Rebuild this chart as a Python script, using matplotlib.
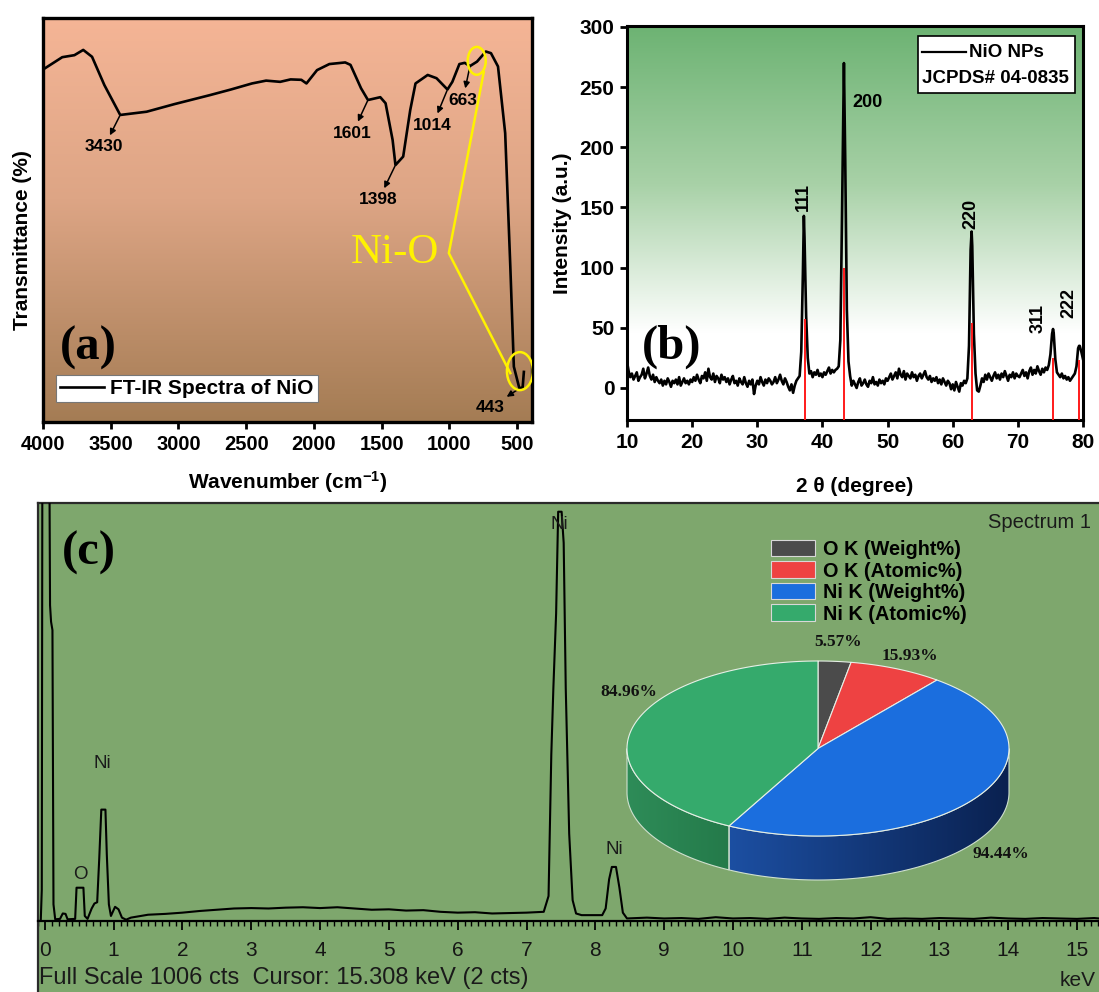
"""NiO nanoparticle characterisation: FT-IR (a), XRD (b) and EDS with a 3-D composition pie (c)."""

import numpy as np
import matplotlib

matplotlib.use("Agg")

import matplotlib.pyplot as plt
from matplotlib.colors import LinearSegmentedColormap
from matplotlib.lines import Line2D
from matplotlib.patches import Ellipse, Patch, Polygon, Rectangle
from matplotlib.ticker import MultipleLocator

W, H = 1099, 992
SANS = "Liberation Sans"
SERIF = "Liberation Serif"

plt.rcParams["font.family"] = [SANS, "DejaVu Sans"]
plt.rcParams["font.weight"] = "bold"
plt.rcParams["axes.labelweight"] = "bold"
plt.rcParams["mathtext.fontset"] = "custom"
plt.rcParams["mathtext.rm"] = f"{SANS}:bold"
plt.rcParams["mathtext.default"] = "rm"

# ---------------------------------------------------------------- FT-IR data
IR_WAVENUMBER = [
    3988, 3858, 3768, 3703, 3638, 3547, 3430, 3235, 3028, 2769, 2613, 2457,
    2353, 2249, 2172, 2093, 2055, 1977, 1886, 1769, 1730, 1652, 1601, 1510,
    1471, 1419, 1398, 1341, 1289, 1250, 1160, 1095, 1014, 978, 926, 887, 848,
    796, 731, 693, 641, 588, 550, 524, 483, 459, 450,
]
IR_TRANSMITTANCE = [
    87.5, 90.3, 90.8, 92.1, 90.4, 83.4, 76.0, 76.8, 78.7, 80.9, 82.3, 83.8,
    84.5, 84.2, 84.8, 84.7, 83.8, 87.1, 88.6, 89.0, 88.4, 82.6, 79.7, 80.4,
    78.9, 69.8, 63.6, 65.7, 77.2, 83.8, 85.9, 85.1, 82.3, 84.2, 88.6, 88.9,
    88.1, 89.2, 91.7, 91.3, 88.0, 71.5, 38.4, 13.7, 8.3, 8.6, 12.4,
]
IR_BAND_LABELS = ["3430", "1601", "1398", "1014", "663", "443"]
IR_BAND_AT = [3430, 1601, 1398, 1014, 848, 483]
IR_LABEL_XY = [(3549, 68.1), (1715, 71.5), (1522, 55.0), (1123, 73.5),
               (901, 79.7), (701, 3.5)]

# ------------------------------------------------------------------ XRD data
XRD_START, XRD_STEP = 10.0, 0.25
XRD_BG = [
    22, 14, 9, 12, 7, 10, 13, 6, 9, 11, 16, 8, 12, 17, 10, 7, 11, 5, 9, 6,
    4, 7, 2, 6, 3, 8, 5, 1, 6, 4, 7, 3, 9, 2, 5, 8, 4, 6, 3, 7,
    5, 9, 6, 11, 7, 4, 10, 8, 13, 6, 16, 9, 7, 12, 5, 10, 8, 4, 11, 7,
    9, 5, 8, 3, 7, 10, 4, 6, 2, 8, 5, 3, 9, 4, 1, 6, 3, 7, -5, 2,
    6, 3, 9, 5, 2, 7, 4, 8, 6, 3, 5, 9, 4, 7, 11, 6, 3, 8, 5, 1,
    -2, 3, -4, 2, 6, 8, 10, 30, 95, 125, 60, 25, 12, 14, 9, 13, 11, 15, 10, 12,
    9, 13, 11, 14, 17, 12, 15, 13, 15, 16, 18, 40, 140, 250, 190, 65, 22, 10, 2, 6,
    3, 0, 5, 8, 2, 4, 7, 3, 1, 6, 4, 9, 3, 5, 2, 7, 4, 6, 3, 8,
    6, 9, 12, 7, 10, 13, 8, 16, 11, 9, 14, 7, 12, 10, 8, 13, 9, 11, 6, 10,
    12, 8, 11, 14, 9, 7, 10, 5, 8, 6, 9, 4, 7, 3, 8, 5, 2, 6, 4, -1,
    3, -2, 5, 1, -3, 4, 2, 6, 4, 8, 35, 115, 118, 45, 12, -2, -3, 2, 8, 5,
    11, 7, 12, 9, 6, 10, 13, 8, 11, 7, 12, 9, 14, 10, 6, 11, 9, 13, 8, 12,
    10, 9, 12, 15, 10, 13, 8, 14, 17, 11, 15, 12, 18, 14, 11, 16, 13, 17, 15, 19,
    28, 45, 46, 24, 13, 11, 9, 12, 8, 10, 7, 9, 6, 8, 10, 12, 18, 33, 35, 30,
    24,
]
XRD_PEAK_TT = [37.15, 43.3, 62.9, 75.4, 79.4]
XRD_PEAK_I = [143, 270, 130, 49, 35]
XRD_HKL = ["111", "200", "220", "311", "222"]
JCPDS_TT = [37.25, 43.3, 62.9, 75.4, 79.4]
JCPDS_I = [57, 100, 54, 25, 23]

# ------------------------------------------------------------------ EDS data
EDS_KEV = [
    -0.10, -0.06, -0.045, -0.035, 0.06, 0.075, 0.09, 0.11, 0.125, 0.15,
    0.22, 0.26, 0.30, 0.33, 0.44, 0.46, 0.56, 0.58, 0.62,
    0.68, 0.72, 0.76, 0.79, 0.82, 0.88, 0.90, 0.93, 0.96, 1.02, 1.07, 1.12, 1.18,
    1.25, 1.50, 1.75, 2.00, 2.25, 2.50, 2.75, 3.00, 3.25, 3.50, 3.75, 4.00, 4.25,
    4.50, 4.75, 5.00, 5.25, 5.50, 5.75, 6.00, 6.25, 6.50, 6.75, 7.00, 7.25,
    7.32, 7.36, 7.39, 7.43, 7.46, 7.51, 7.54, 7.57, 7.62, 7.67, 7.72, 7.80,
    7.95, 8.10, 8.15, 8.20, 8.24, 8.30, 8.35, 8.40, 8.46,
    8.75, 9.00, 9.25, 9.50, 9.75, 10.00, 10.25, 10.50, 10.75, 11.00, 11.25,
    11.50, 11.75, 12.00, 12.25, 12.50, 12.75, 13.00, 13.25, 13.50, 13.75,
    14.00, 14.25, 14.50, 14.75, 15.00, 15.25, 15.32,
]
EDS_COUNTS = [
    0, 0, 75, 1300, 1300, 760, 720, 700, 40, 4,
    5, 18, 17, 4, 5, 80, 80, 12, 5,
    30, 42, 45, 150, 268, 268, 160, 40, 12, 34, 28, 8, 3,
    8, 15, 17, 20, 24, 27, 30, 31, 30, 32, 33, 31, 33,
    30, 27, 28, 25, 26, 22, 20, 21, 18, 19, 20, 22,
    60, 400, 560, 740, 985, 985, 910, 560, 210, 50, 18, 14,
    14, 14, 30, 100, 130, 130, 80, 20, 6,
    8, 6, 7, 5, 9, 6, 7, 5, 8, 6, 5,
    7, 6, 9, 5, 6, 5, 7, 6, 5, 8,
    6, 5, 7, 6, 5, 7, 6,
]
EDS_LINES = ["O", "Ni", "Ni", "Ni"]
EDS_LINE_KEV = [0.52, 0.83, 7.48, 8.27]
EDS_LINE_Y = [111, 380, 955, 171]

PIE_LABELS = ["O K (Weight%)", "O K (Atomic%)", "Ni K (Weight%)", "Ni K (Atomic%)"]
PIE_VALUES = [5.57, 15.93, 94.44, 84.96]
PIE_TOP = ["#4B4B4B", "#EE4242", "#1B6EDE", "#35AA6C"]
PIE_SIDE = [("#333333", "#222222"), ("#B02A2A", "#8A1E1E"),
            ("#1C4FA2", "#0A2150"), ("#2E8C58", "#247A4A")]
PIE_LABEL_XY = [(20, 106), (92, 93), (183, -105), (-189, 56)]


def fx(x):
    return x / W


def fy(y):
    return 1 - y / H


def gradient_bg(ax, extent, stops):
    cmap = LinearSegmentedColormap.from_list("bg", stops)
    ax.imshow(np.linspace(0, 1, 256).reshape(-1, 1), extent=extent, origin="upper",
              aspect="auto", cmap=cmap, zorder=0)


fig = plt.figure(figsize=(W / 100, H / 100), dpi=100, facecolor="white")

# =============================================================== (a) FT-IR
ax_a = fig.add_axes([fx(43), fy(422), (532 - 43) / W, (422 - 18) / H])
gradient_bg(ax_a, (4000, 390, 0, 100),
            [(0, "#F5B596"), (0.45, "#DDA585"), (1, "#A47C54")])
ir_line, = ax_a.plot(IR_WAVENUMBER, IR_TRANSMITTANCE, color="black", lw=1.9, zorder=3)
ax_a.set_xlim(4000, 390)
ax_a.set_ylim(0, 100)
ax_a.set_xticks(np.arange(4000, 499, -500))
ax_a.set_yticks([])
ax_a.tick_params(axis="x", direction="out", length=5, width=2, labelsize=14.5, pad=4)
for s in ax_a.spines.values():
    s.set_linewidth(2.4)
ax_a.set_xlabel("Wavenumber (cm$^{-1}$)", fontsize=15, fontweight="bold")
ax_a.xaxis.set_label_coords(0.5, -0.148)
ax_a.xaxis.label.set_va("center")
ax_a.set_ylabel("Transmittance (%)", fontsize=15, fontweight="bold")
ax_a.yaxis.set_label_coords(-0.041, 0.45)
ax_a.yaxis.label.set_va("center")

for lab, wn, xy in zip(IR_BAND_LABELS, IR_BAND_AT, IR_LABEL_XY):
    t = np.interp(wn, IR_WAVENUMBER[::-1], IR_TRANSMITTANCE[::-1])
    ax_a.annotate(lab, xy=(wn, t), xytext=xy, ha="center", va="center", fontsize=12.5,
                  arrowprops=dict(arrowstyle="<|-", color="black", lw=1.1,
                                  mutation_scale=9, shrinkA=1, shrinkB=1),
                  zorder=4)

ax_a.legend([ir_line], ["FT-IR Spectra of NiO"], loc="lower left",
            bbox_to_anchor=((56 - 43) / 489, (422 - 402) / 404), borderaxespad=0,
            fancybox=False, framealpha=1, edgecolor="#777777", fontsize=15,
            handlelength=2.1, handletextpad=0.3, borderpad=0.2).get_frame().set_linewidth(0.8)

# Ni-O stretching callout
yellow = "#FFF200"
ax_a.add_patch(Ellipse((798, 89.4), 133, 6.9, fill=False, ec=yellow, lw=1.8, zorder=5))
ax_a.add_patch(Ellipse((479, 12.6), 192, 9.4, fill=False, ec=yellow, lw=1.8, zorder=5))
ax_a.plot([746, 1004, 550], [86.6, 41.8, 12.1], color=yellow, lw=1.8, zorder=5)
ax_a.text(1400, 41.8, "Ni-O", color=yellow, fontsize=31, fontfamily=SERIF,
          fontweight="normal", ha="center", va="center", zorder=5)

# ================================================================= (b) XRD
ax_b = fig.add_axes([fx(627), fy(420), (1083 - 627) / W, (420 - 26) / H])
y_lo, y_hi = -26.6, 300.8
gradient_bg(ax_b, (10, 80, y_lo, y_hi),
            [(0, "#6DB373"), (0.4, "#A8D1A7"), (0.78, "#FFFFFF"), (1, "#FFFFFF")])
bg_tt = XRD_START + XRD_STEP * np.arange(len(XRD_BG))
tt = np.concatenate([bg_tt, XRD_PEAK_TT])
inten = np.concatenate([XRD_BG, XRD_PEAK_I])
order = np.argsort(tt)
ax_b.plot(tt[order], inten[order], color="black", lw=1.9, zorder=3)
ax_b.vlines(JCPDS_TT, y_lo, JCPDS_I, color="#FF1A1A", lw=1.4, zorder=4)
ax_b.set_xlim(10, 80)
ax_b.set_ylim(y_lo, y_hi)
ax_b.set_xticks(np.arange(10, 81, 10))
ax_b.set_yticks(np.arange(0, 301, 50))
ax_b.tick_params(direction="out", length=5, width=2, labelsize=15, pad=4)
for s in ax_b.spines.values():
    s.set_linewidth(2.2)
ax_b.set_xlabel("2 θ (degree)", fontsize=15, fontweight="bold")
ax_b.xaxis.set_label_coords(0.5, -0.17)
ax_b.xaxis.label.set_va("center")
ax_b.set_ylabel("Intensity (a.u.)", fontsize=15, fontweight="bold")
ax_b.yaxis.set_label_coords(-0.1425, 0.5)
ax_b.yaxis.label.set_va("center")

hkl_offset = [(-0.15, 16, 90), (3.6, -33, 0), (-0.1, 15, 90), (-2.35, 9, 90), (-1.5, 36, 90)]
for lab, x0, y0, (dx, dy, rot) in zip(XRD_HKL, XRD_PEAK_TT, XRD_PEAK_I, hkl_offset):
    ax_b.text(x0 + dx, y0 + dy, lab, rotation=rot, ha="center", va="center",
              fontsize=13, zorder=5)

# legend box
ax_b.add_patch(Rectangle((0.638, 0.830), 0.344, 0.145, transform=ax_b.transAxes,
                         facecolor="white", edgecolor="black", lw=1.2, zorder=5))
ax_b.add_line(Line2D([0.647, 0.743], [0.934, 0.934], transform=ax_b.transAxes,
                     color="black", lw=1.6, zorder=6))
ax_b.text(0.75, 0.934, "NiO NPs", transform=ax_b.transAxes, ha="left", va="center",
          fontsize=13.5, zorder=6)
ax_b.text(0.647, 0.866, "JCPDS# 04-0835", transform=ax_b.transAxes, ha="left",
          va="center", fontsize=13.5, zorder=6)

# ================================================================= (c) EDS
ax_c = fig.add_axes([fx(38), 0, (W - 38) / W, (H - 503) / H], facecolor="#7EA76D")
ax_c.plot(EDS_KEV, EDS_COUNTS, color="black", lw=1.5, zorder=3)
ax_c.set_xlim(-0.10, 15.32)
ax_c.set_ylim(-171, 1006)
ax_c.set_yticks([])
ax_c.spines["right"].set_visible(False)
ax_c.spines["bottom"].set_position(("data", 0))
ax_c.spines["bottom"].set_linewidth(1.6)
for side in ("left", "top"):
    ax_c.spines[side].set_color("#2A2A2A")
    ax_c.spines[side].set_linewidth(1.6)
ax_c.set_xticks(np.arange(16), [str(k) for k in range(16)], fontweight="normal",
                fontsize=15, color="#151515")
ax_c.xaxis.set_minor_locator(MultipleLocator(0.1))
ax_c.tick_params(which="major", direction="out", length=6.5, width=1.3, pad=8)
ax_c.tick_params(which="minor", direction="out", length=3.5, width=1.0)

for el, kev, yc in zip(EDS_LINES, EDS_LINE_KEV, EDS_LINE_Y):
    ax_c.text(kev, yc, el, ha="center", va="center", fontsize=13.5,
              fontweight="normal", color="#1A1A1A", zorder=4)

fig.text(fx(39), fy(978), "Full Scale 1006 cts  Cursor: 15.308 keV (2 cts)",
         ha="left", va="center", fontsize=17, fontweight="normal", color="#1A1A1A")
fig.text(fx(988), fy(522), "Spectrum 1", ha="left", va="center", fontsize=14.5,
         fontweight="normal", color="#1A1A1A")
fig.text(fx(1096), fy(980), "keV", ha="right", va="center", fontsize=15,
         fontweight="normal", color="#1A1A1A")

# 3-D pie of the composition
ax_pie = fig.add_axes([fx(620), fy(890), 396 / W, 235 / H])
ax_pie.set_axis_off()
rx, ry, depth = 191.0, 87.5, 44.0
fracs = np.array(PIE_VALUES) / sum(PIE_VALUES)
starts = 90 - 360 * np.concatenate([[0], np.cumsum(fracs)[:-1]])
ends = starts - 360 * fracs

for i in range(len(PIE_VALUES)):
    hi, lo = min(starts[i], 0), max(ends[i], -180)
    if hi <= lo:
        continue
    t = np.radians(np.linspace(hi, lo, 120))
    upper = np.column_stack([rx * np.cos(t), ry * np.sin(t)])
    lower = upper - [0, depth]
    side = Polygon(np.vstack([upper, lower[::-1]]), closed=True, facecolor="none",
                   edgecolor="#CFE0CF", lw=0.8, zorder=2)
    ax_pie.add_patch(side)
    xs = upper[:, 0]
    img = ax_pie.imshow(np.linspace(0, 1, 256).reshape(1, -1),
                        extent=(xs.min(), xs.max(), -ry - depth, 0), aspect="auto",
                        cmap=LinearSegmentedColormap.from_list("side", PIE_SIDE[i]),
                        zorder=1)
    img.set_clip_path(side)

for i in range(len(PIE_VALUES)):
    t = np.radians(np.linspace(starts[i], ends[i], 160))
    pts = np.vstack([[0, 0], np.column_stack([rx * np.cos(t), ry * np.sin(t)])])
    ax_pie.add_patch(Polygon(pts, closed=True, facecolor=PIE_TOP[i],
                             edgecolor="#E6EFE6", lw=0.8, zorder=3))

for v, (x, y) in zip(PIE_VALUES, PIE_LABEL_XY):
    ax_pie.text(x, y, f"{v:.2f}%", ha="center", va="center", fontfamily=SERIF,
                fontsize=12.5, fontweight="bold", color="#111111", zorder=4)
ax_pie.set_xlim(-198, 198)
ax_pie.set_ylim(-141.5, 93.5)

handles = [Patch(facecolor=c, edgecolor="#D8D8D8", linewidth=0.8) for c in PIE_TOP]
fig.legend(handles, PIE_LABELS, loc="upper left", bbox_to_anchor=(fx(771), fy(540)),
           frameon=False, fontsize=14.3, handlelength=2.2, handleheight=0.9,
           labelspacing=0.12, handletextpad=0.4, borderpad=0, borderaxespad=0)

# panel letters
for lab, (x, y) in zip(["(a)", "(b)", "(c)"], [(88, 348), (672, 347), (89, 553)]):
    fig.text(fx(x), fy(y), lab, ha="center", va="center", fontfamily=SERIF,
             fontsize=35, color="black")

fig.savefig("out.png", dpi=100, facecolor="white")
